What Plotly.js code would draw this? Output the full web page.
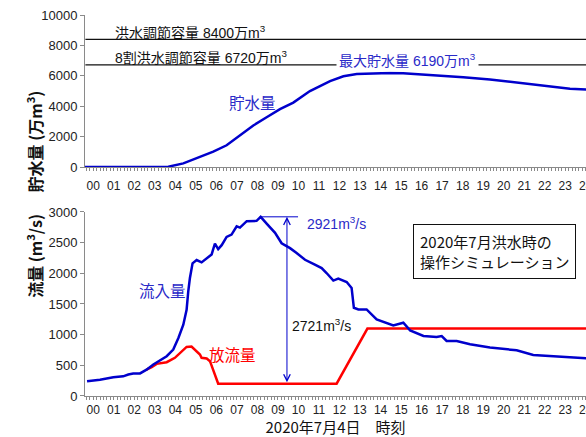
<!DOCTYPE html>
<html>
<head>
<meta charset="utf-8">
<script src="https://cdn.plot.ly/plotly-3.0.1.min.js"></script>
<style>html,body{margin:0;padding:0;background:#fff;}#chart{width:586px;height:437px;}</style>
</head>
<body>
<div id="chart"></div>
<script>
// ---- data (hours from 00:00, 2020-07-04) ----
const storageHours = [0, 3.0, 4.16, 4.89, 5.7, 6.35, 7.0, 7.65, 8.3, 8.95, 9.6, 10.25, 11.06, 12.04, 12.69, 13.34, 14.3, 14.96, 15.6, 16.26, 17.4, 18.53, 19.83, 21.13, 22.43, 23.73, 24.6];
const storageValues = [0, 0, 20, 240, 670, 1010, 1430, 2080, 2730, 3270, 3810, 4240, 5000, 5650, 5970, 6120, 6175, 6190, 6170, 6120, 6040, 5910, 5760, 5540, 5320, 5150, 5100];

const inflowHours = [0.2, 0.83, 1.48, 1.96, 2.21, 2.45, 2.78, 3.1, 3.43, 3.75, 4.08, 4.4, 4.65, 4.89, 5.05, 5.13, 5.21, 5.34, 5.54, 5.78, 6.03, 6.27, 6.43, 6.59, 6.76, 7.0, 7.24, 7.49, 7.65, 7.98, 8.46, 8.66, 8.95, 9.36, 9.68, 10.09, 10.41, 10.82, 11.3, 11.63, 11.87, 12.2, 12.44, 12.85, 13.09, 13.2, 13.42, 13.82, 14.31, 14.72, 15.12, 15.61, 15.94, 16.59, 17.23, 17.48, 17.72, 18.21, 18.86, 19.83, 21.13, 21.94, 22.76, 23.57, 24.6];
const inflowValues = [240, 265, 305, 320, 350, 365, 368, 430, 513, 578, 649, 757, 946, 1162, 1405, 1703, 1919, 2162, 2216, 2178, 2243, 2308, 2486, 2394, 2459, 2594, 2632, 2767, 2746, 2850, 2855, 2921, 2810, 2660, 2490, 2410, 2330, 2221, 2140, 2086, 2005, 1881, 1913, 1859, 1762, 1438, 1411, 1411, 1249, 1205, 1151, 1195, 1070, 978, 962, 978, 897, 897, 843, 789, 746, 670, 654, 627, 612];

const outflowHours = [3.1, 3.35, 3.59, 4.08, 4.48, 4.81, 5.05, 5.29, 5.45, 5.7, 5.78, 6.03, 6.19, 6.59, 12.36, 13.86, 24.6];
const outflowValues = [432, 470, 524, 551, 622, 730, 800, 805, 760, 676, 622, 611, 568, 200, 200, 1100, 1100];

const floodCapacity = 8400;
const floodCapacity80 = 6720;
const maxStorage = 6190;
const peakInflow = 2921;
const peakCut = 2721;
const peakHour = 8.66;
const arrowHour = 9.94;
const constRelease = 200;

const storageTicks = [0, 2000, 4000, 6000, 8000, 10000];
const flowTicks = [0, 500, 1000, 1500, 2000, 2500, 3000];

const hourTickVals = [];
const hourTickText = [];
for (let h = 0; h <= 24; h++) { hourTickVals.push(h + 0.5); hourTickText.push(String(h).padStart(2, '0')); }

// ---- styling ----
const JP = '"Noto Sans CJK JP", sans-serif';
const NUM = 'Arial, "Liberation Sans", "Noto Sans CJK JP", sans-serif';
const BLUE = '#0000cc';
const TXTBLUE = '#2a2ac8';
const RED = '#ff0000';
const AX = '#8a8a8a';

const xCommon = {
  range: [0.1, 24.51], showgrid: false, zeroline: false,
  showline: true, linecolor: AX, linewidth: 1,
  tickmode: 'array', tickvals: hourTickVals, ticktext: hourTickText,
  ticks: 'outside', ticklen: 3, tickcolor: AX, ticklabeloverflow: 'allow',
  tickfont: {family: NUM, size: 12, color: '#222'},
  minor: {tickmode: 'linear', tick0: 0, dtick: 1/6, ticks: 'outside', ticklen: 3, tickcolor: AX},
  fixedrange: true
};
const yCommon = {
  showgrid: false, zeroline: false, showline: true, linecolor: AX, linewidth: 1,
  ticks: 'outside', ticklen: 4, tickcolor: AX, tickmode: 'array',
  tickfont: {family: NUM, size: 13, color: '#222'}, fixedrange: true
};

const traces = [
  {x: storageHours, y: storageValues, xaxis: 'x', yaxis: 'y', mode: 'lines',
   line: {color: BLUE, width: 2.5}, hoverinfo: 'skip'},
  {x: outflowHours, y: outflowValues, xaxis: 'x2', yaxis: 'y2', mode: 'lines',
   line: {color: RED, width: 2.5}, hoverinfo: 'skip'},
  {x: inflowHours, y: inflowValues, xaxis: 'x2', yaxis: 'y2', mode: 'lines',
   line: {color: BLUE, width: 2.5}, hoverinfo: 'skip'}
];

const layout = {
  width: 586, height: 437,
  margin: {l: 85, r: 0, t: 15, b: 41},
  paper_bgcolor: '#fff', plot_bgcolor: '#fff',
  showlegend: false,
  xaxis: Object.assign({}, xCommon, {anchor: 'y', domain: [0, 1], ticklabelstandoff: 5}),
  yaxis: Object.assign({}, yCommon, {anchor: 'x', domain: [0.601, 1], range: [0, 10000],
    tickvals: storageTicks, ticktext: storageTicks.map(String)}),
  xaxis2: Object.assign({}, xCommon, {anchor: 'y2', domain: [0, 1],
    title: {text: '2020年7月4日　時刻', font: {family: JP, size: 15, color: '#111'}, standoff: 4}}),
  yaxis2: Object.assign({}, yCommon, {anchor: 'x2', domain: [0, 0.483], range: [0, 3000],
    tickvals: flowTicks, ticktext: flowTicks.map(String)}),
  shapes: [
    {type: 'line', xref: 'x', yref: 'y', x0: 0.12, x1: 24.6, y0: floodCapacity, y1: floodCapacity, line: {color: '#111', width: 1.3}},
    {type: 'line', xref: 'x', yref: 'y', x0: 0.12, x1: 24.6, y0: floodCapacity80, y1: floodCapacity80, line: {color: '#111', width: 1.3}},
    {type: 'line', xref: 'x2', yref: 'y2', x0: peakHour - 0.05, x1: 10.48, y0: peakInflow, y1: peakInflow, line: {color: BLUE, width: 1}}
  ],
  annotations: [
    {xref: 'paper', yref: 'paper', x: -0.129, y: 0.807, text: '貯水量 (万m<sup>3</sup>)', textangle: -90, showarrow: false,
     font: {family: JP, size: 16, color: '#111', weight: 'bold'}},
    {xref: 'paper', yref: 'paper', x: -0.129, y: 0.252, text: '流量 (m<sup>3</sup>/s)', textangle: -90, showarrow: false,
     font: {family: JP, size: 16, color: '#111', weight: 'bold'}},
    {xref: 'x', yref: 'y', x: 5.26, y: 8880, text: '洪水調節容量 8400万m<sup>3</sup>', showarrow: false,
     font: {family: NUM, size: 14, color: '#111'}},
    {xref: 'x', yref: 'y', x: 5.75, y: 7240, text: '8割洪水調節容量 6720万m<sup>3</sup>', showarrow: false,
     font: {family: NUM, size: 14, color: '#111'}},
    {xref: 'x', yref: 'y', x: 15.79, y: 7010, text: '最大貯水量 ' + maxStorage + '万m<sup>3</sup>', showarrow: false,
     bgcolor: '#fff', borderpad: 2, font: {family: NUM, size: 14, color: TXTBLUE}},
    {xref: 'x', yref: 'y', x: 8.28, y: 4277, text: '貯水量', showarrow: false,
     font: {family: JP, size: 15.5, color: TXTBLUE}},
    {xref: 'x2', yref: 'y2', x: 3.9, y: 1736, text: '流入量', showarrow: false,
     font: {family: JP, size: 15.5, color: TXTBLUE}},
    {xref: 'x2', yref: 'y2', x: 7.31, y: 681, text: '放流量', showarrow: false,
     font: {family: JP, size: 15.5, color: RED}},
    {xref: 'x2', yref: 'y2', x: 10.82, y: 2822, xanchor: 'left', text: peakInflow + 'm<sup>3</sup>/s', showarrow: false,
     font: {family: NUM, size: 14, color: TXTBLUE}},
    {xref: 'x2', yref: 'y2', x: 10.09, y: 1152, xanchor: 'left', text: peakCut + 'm<sup>3</sup>/s', showarrow: false,
     font: {family: NUM, size: 14, color: '#111'}},
    {xref: 'x2', yref: 'y2', x: arrowHour, y: peakInflow, axref: 'x2', ayref: 'y2', ax: arrowHour, ay: constRelease,
     text: '', showarrow: true, arrowside: 'end+start', arrowhead: 5, startarrowhead: 5, arrowsize: 1.3, startarrowsize: 1.3,
     arrowwidth: 1, arrowcolor: BLUE, standoff: 0, startstandoff: 0},
    {xref: 'x2', yref: 'y2', x: 20.06, y: 2358, text: '2020年7月洪水時の<br>操作シミュレーション', showarrow: false,
     align: 'left', bordercolor: '#111', borderwidth: 1, borderpad: 6, bgcolor: '#fff',
     font: {family: JP, size: 15, color: '#111'}}
  ]
};

Plotly.newPlot('chart', traces, layout, {displayModeBar: false, staticPlot: true});
</script>
</body>
</html>
